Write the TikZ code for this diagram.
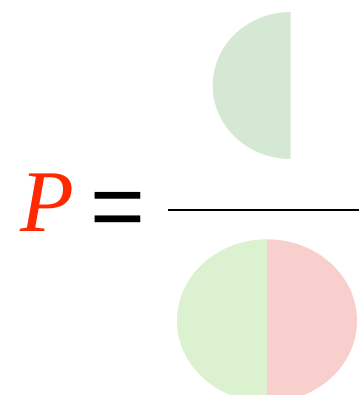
\documentclass[tikz,border=0pt]{standalone}
\usepackage{fontspec}
\setmainfont{Liberation Serif}
\newfontfamily\eqfont{Liberation Sans}
\definecolor{topgreen}{HTML}{D5E8D4}
\definecolor{botgreen}{HTML}{DCF1D0}
\definecolor{botred}{HTML}{F8CFCC}
\definecolor{pred}{RGB}{255,40,0}
\begin{document}
\begin{tikzpicture}[x=1pt,y=-1pt,
  lbl/.style={inner sep=0pt,outer sep=0pt}]
\useasboundingbox (0,0) rectangle (359,395);
\clip (0,0) rectangle (359,395);
% numerator half disc
\fill[topgreen] (290.7,12) arc[start angle=90,end angle=270,x radius=78,y radius=-73.5] -- cycle;
% denominator disc
\fill[botgreen] (267,239.3) arc[start angle=90,end angle=270,x radius=90,y radius=-81.4] -- cycle;
\fill[botred] (267,239.3) arc[start angle=90,end angle=-90,x radius=90,y radius=-81.4] -- cycle;
% fraction bar
\coordinate (barL) at (168,210);
\coordinate (barR) at (359,210);
\draw[line width=2pt] (barL) -- (barR);
% labels
\node[lbl,anchor=base west,text=pred,font=\fontsize{88}{88}\selectfont\itshape] (P) at (20,231) {P};
\node[lbl,anchor=base west,font=\eqfont\fontsize{94}{94}\selectfont] (eq) at (90,238) {=};
\end{tikzpicture}
\end{document}
